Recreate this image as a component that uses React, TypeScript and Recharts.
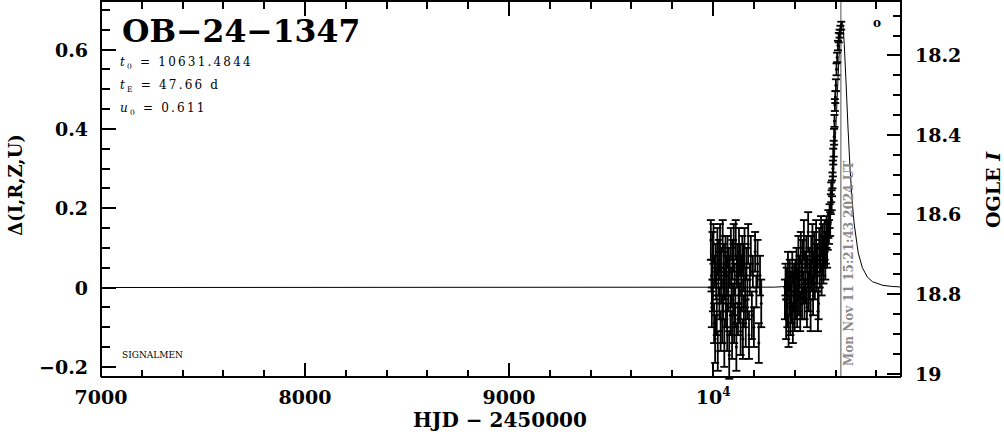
import { ComposedChart, Line, Scatter, XAxis, YAxis, ErrorBar } from "recharts"

const FONT = "'DejaVu Serif', serif"
const GRAY = "#8a8a8a"

// OGLE photometry, HJD - 2450000 vs delta magnitude
const season1Hjd = [
  9989, 9992, 9994, 9997, 9999, 10002, 10005, 10007, 10010, 10013,
  10015, 10018, 10021, 10023, 10026, 10029, 10031, 10034, 10037, 10039,
  10042, 10045, 10047, 10050, 10053, 10055, 10058, 10061, 10063, 10066,
  10069, 10071, 10074, 10077, 10079, 10082, 10085, 10087, 10090, 10093,
  10095, 10098, 10101, 10103, 10106, 10109, 10111, 10114, 10117, 10119,
  10122, 10125, 10127, 10130, 10133, 10135, 10138, 10141, 10143, 10146,
  10149, 10151, 10154, 10157, 10160, 10164, 10168, 10172, 10176, 10180,
  10185, 10190, 10195, 10200, 10206, 10212, 10218, 10224, 10230, 10236,
]
const season1Dmag = [
  0.12, 0.03, -0.05, 0.08, -0.02, 0.11, -0.09, 0.04, -0.13, 0.06,
  0.01, -0.07, 0.09, -0.16, 0.02, 0.07, -0.04, 0.1, -0.11, 0.0,
  0.05, -0.08, 0.13, -0.03, 0.06, -0.14, 0.01, 0.08, -0.06, 0.03,
  -0.1, 0.09, -0.01, 0.05, -0.17, 0.04, -0.07, 0.11, 0.0, -0.12,
  0.07, -0.03, 0.1, -0.09, 0.02, -0.05, 0.12, -0.15, 0.04, 0.06,
  -0.08, 0.01, 0.09, -0.04, 0.07, -0.11, 0.03, -0.02, 0.08, -0.13,
  0.05, -0.06, 0.1, 0.0, -0.09, 0.06, -0.03, 0.11, -0.12, 0.02,
  0.08, -0.07, 0.04, -0.1, 0.09, -0.01, 0.06, -0.14, 0.03, -0.04,
]
const season1Err = [
  0.05, 0.04, 0.05, 0.06, 0.04, 0.05, 0.05, 0.04, 0.06, 0.05,
  0.04, 0.05, 0.06, 0.05, 0.04, 0.05, 0.04, 0.06, 0.05, 0.04,
  0.05, 0.06, 0.04, 0.05, 0.05, 0.06, 0.04, 0.05, 0.04, 0.05,
  0.06, 0.04, 0.05, 0.05, 0.06, 0.04, 0.05, 0.04, 0.05, 0.06,
  0.05, 0.04, 0.06, 0.05, 0.04, 0.05, 0.05, 0.06, 0.04, 0.05,
  0.04, 0.05, 0.06, 0.05, 0.04, 0.06, 0.05, 0.04, 0.05, 0.05,
  0.06, 0.04, 0.05, 0.05, 0.06, 0.04, 0.05, 0.05, 0.06, 0.04,
  0.05, 0.06, 0.04, 0.05, 0.05, 0.04, 0.06, 0.05, 0.05, 0.06,
]

const season2Hjd = [
  10352, 10355, 10358, 10361, 10364, 10367, 10370, 10373, 10376, 10379,
  10382, 10385, 10388, 10391, 10394, 10397, 10400, 10403, 10406, 10409,
  10412, 10415, 10418, 10421, 10424, 10427, 10430, 10433, 10436, 10439,
  10442, 10445, 10448, 10451, 10454, 10457, 10460, 10463, 10466, 10469,
  10472, 10475, 10478, 10481, 10484, 10487, 10490, 10493, 10496, 10499,
  10502, 10505, 10508, 10511, 10514, 10517, 10520, 10523, 10526, 10529,
  10532, 10535, 10538, 10541, 10544, 10547, 10550, 10553, 10556, 10559,
  10562, 10565,
]
const season2Dmag = [
  -0.03, 0.02, -0.08, 0.01, -0.05, 0.04, -0.11, -0.02, 0.03, -0.07,
  0.0, -0.04, 0.05, -0.09, -0.01, 0.02, -0.06, 0.03, -0.03, 0.06,
  -0.05, 0.01, 0.08, -0.02, 0.04, -0.06, 0.1, 0.02, -0.04, 0.07,
  0.0, 0.12, -0.03, 0.05, 0.01, 0.09, -0.05, 0.04, 0.14, -0.01,
  0.06, 0.02, -0.07, 0.08, 0.03, 0.11, -0.02, 0.05, 0.09, 0.01,
  0.07, 0.12, 0.03, 0.06, -0.06, -0.04, 0.1, 0.04, 0.08, 0.13,
  0.02, 0.07, 0.11, 0.05, 0.09, 0.12, 0.06, 0.1, 0.14, 0.09,
  0.13, 0.16,
]
const season2Err = [
  0.05, 0.04, 0.05, 0.04, 0.05, 0.05, 0.04, 0.05, 0.04, 0.05,
  0.04, 0.05, 0.04, 0.05, 0.05, 0.04, 0.05, 0.04, 0.05, 0.04,
  0.05, 0.04, 0.05, 0.05, 0.04, 0.05, 0.04, 0.05, 0.04, 0.05,
  0.04, 0.05, 0.05, 0.04, 0.05, 0.04, 0.05, 0.04, 0.05, 0.05,
  0.04, 0.05, 0.04, 0.05, 0.04, 0.05, 0.05, 0.04, 0.05, 0.04,
  0.04, 0.05, 0.04, 0.05, 0.05, 0.04, 0.05, 0.04, 0.04, 0.05,
  0.04, 0.04, 0.05, 0.04, 0.04, 0.05, 0.04, 0.04, 0.04, 0.04,
  0.035, 0.035,
]

const riseHjd = [
  10568, 10571, 10574, 10577, 10579, 10581, 10583, 10585, 10587, 10589,
  10591, 10593, 10595, 10597, 10599, 10602, 10605, 10608, 10612, 10616,
  10620, 10624, 10628,
]
const riseDmag = [
  0.14, 0.18, 0.16, 0.21, 0.24, 0.22, 0.25, 0.27, 0.3, 0.33,
  0.35, 0.38, 0.42, 0.46, 0.48, 0.51, 0.55, 0.58, 0.61, 0.63,
  0.64, 0.65, 0.66,
]
const riseErr = [
  0.03, 0.03, 0.03, 0.025, 0.025, 0.025, 0.02, 0.02, 0.02, 0.02,
  0.02, 0.02, 0.015, 0.015, 0.015, 0.015, 0.015, 0.012, 0.012, 0.012,
  0.01, 0.01, 0.01,
]

// fitted model curve
const modelHjd = [
  7000, 10300, 10400, 10450, 10480, 10500, 10530, 10550, 10570, 10580,
  10590, 10600, 10610, 10620, 10626, 10631.5, 10637, 10643, 10651.5, 10661.5,
  10671.5, 10681.5, 10691.5, 10711.5, 10731.5, 10756.5, 10781.5, 10831.5, 10881.5, 10921,
]
const modelDmag = [
  0, 0.0009, 0.0038, 0.0098, 0.0142, 0.022, 0.0476, 0.0835, 0.1528, 0.2086,
  0.2845, 0.3834, 0.5006, 0.6128, 0.6577, 0.672, 0.6577, 0.6128, 0.519, 0.4,
  0.298, 0.219, 0.16, 0.087, 0.05, 0.026, 0.0146, 0.0054, 0.0025, 0.0014,
]

// time the plot was made (grey marker)
const nowHjd = 10626.14
const nowText = "Mon Nov 11 15:21:43 2024 UT"

const xTicks = [
  7000, 7200, 7400, 7600, 7800, 8000, 8200, 8400, 8600, 8800, 9000,
  9200, 9400, 9600, 9800, 10000, 10200, 10400, 10600, 10800,
]
const xMajor = [7000, 8000, 9000, 10000]
const leftTicks = [
  -0.2, -0.15, -0.1, -0.05, 0, 0.05, 0.1, 0.15, 0.2, 0.25,
  0.3, 0.35, 0.4, 0.45, 0.5, 0.55, 0.6, 0.65, 0.7,
]
const leftMajor = [-0.2, 0, 0.2, 0.4, 0.6]
const leftLabels = ["−0.2", "0", "0.2", "0.4", "0.6"]
const rightTicks = [
  18.1, 18.15, 18.2, 18.25, 18.3, 18.35, 18.4, 18.45, 18.5, 18.55,
  18.6, 18.65, 18.7, 18.75, 18.8, 18.85, 18.9, 18.95, 19,
]
const rightMajor = [18.2, 18.4, 18.6, 18.8, 19]
const rightLabels = ["18.2", "18.4", "18.6", "18.8", "19"]

// frame: plot box and axis domains
const BOX = { left: 101, right: 901, top: 1, bottom: 377 }
const X_DOMAIN: [number, number] = [7000, 10921]
const D_DOMAIN: [number, number] = [-0.2256, 0.7223]
const M_DOMAIN: [number, number] = [18.0629, 19.0088]

const zip = (h: number[], d: number[], e: number[]) =>
  h.map((hjd, i) => ({ hjd, dmag: d[i], err: e[i] }))

const obs = [
  ...zip(season1Hjd, season1Dmag, season1Err),
  ...zip(season2Hjd, season2Dmag, season2Err),
  ...zip(riseHjd, riseDmag, riseErr),
]
const model = modelHjd.map((hjd, i) => ({ hjd, dmag: modelDmag[i] }))
const nowLine = [
  { hjd: nowHjd, dmag: D_DOMAIN[0] },
  { hjd: nowHjd, dmag: D_DOMAIN[1] },
]

const findMajor = (list: number[], v: number) => list.findIndex((m) => Math.abs(m - v) < 1e-6)

const labelStyle = { fontFamily: FONT, fontWeight: "bold" as const, fontSize: 19, fill: "#000" }
const frameStroke = { stroke: "#000", strokeWidth: 2 }

function BottomLabel({ x, y, payload }: any) {
  if (findMajor(xMajor, payload.value) < 0) return <g />
  return (
    <text x={x} y={y + 27} textAnchor="middle" {...labelStyle}>
      {payload.value === 10000 ? (
        <>
          <tspan>10</tspan>
          <tspan fontSize={12} dy={-8}>4</tspan>
        </>
      ) : (
        payload.value
      )}
    </text>
  )
}

function LeftLabel({ x, y, payload }: any) {
  const idx = findMajor(leftMajor, payload.value)
  if (idx < 0) return <g />
  return (
    <text x={x - 13} y={y + 7} textAnchor="end" {...labelStyle}>
      {leftLabels[idx]}
    </text>
  )
}

function RightLabel({ x, y, payload }: any) {
  const idx = findMajor(rightMajor, payload.value)
  if (idx < 0) return <g />
  return (
    <text x={x + 14} y={y + 7} textAnchor="start" {...labelStyle}>
      {rightLabels[idx]}
    </text>
  )
}

// inward tick marks on all four sides, laid on top of the chart
function FrameTicks() {
  const w = BOX.right - BOX.left
  const h = BOX.bottom - BOX.top
  const px = (v: number) => BOX.left + ((v - X_DOMAIN[0]) / (X_DOMAIN[1] - X_DOMAIN[0])) * w
  const pd = (v: number) => BOX.top + ((D_DOMAIN[1] - v) / (D_DOMAIN[1] - D_DOMAIN[0])) * h
  const pm = (v: number) => BOX.top + ((v - M_DOMAIN[0]) / (M_DOMAIN[1] - M_DOMAIN[0])) * h
  const d: string[] = []
  xTicks.forEach((v) => {
    const major = findMajor(xMajor, v) >= 0
    const x = Math.round(px(v))
    d.push(`M${x} ${BOX.bottom}V${BOX.bottom - (major ? 14 : 7)}`)
    d.push(`M${x} ${BOX.top}V${BOX.top + (major ? 15 : 8)}`)
  })
  leftTicks.forEach((v) => {
    const y = Math.round(pd(v))
    d.push(`M${BOX.left} ${y}H${BOX.left + (findMajor(leftMajor, v) >= 0 ? 15 : 9)}`)
  })
  rightTicks.forEach((v) => {
    const y = Math.round(pm(v))
    d.push(`M${BOX.right} ${y}H${BOX.right - (findMajor(rightMajor, v) >= 0 ? 14 : 8)}`)
  })
  return (
    <g>
      <rect x={BOX.left - 1} y={BOX.top - 1} width={w + 2} height={2} fill="#000" />
      <path d={d.join("")} stroke="#000" strokeWidth={2.5} fill="none" shapeRendering="crispEdges" />
    </g>
  )
}

export default function App() {
  const nowX = BOX.left + ((nowHjd - X_DOMAIN[0]) / (X_DOMAIN[1] - X_DOMAIN[0])) * (BOX.right - BOX.left)
  return (
    <div style={{ position: "absolute", left: 0, top: 0, width: 1004, height: 434, background: "#fff" }}>
      <ComposedChart width={1004} height={434} margin={{ top: BOX.top, right: 0, bottom: 0, left: 0 }}>
        <XAxis
          xAxisId="b"
          type="number"
          dataKey="hjd"
          domain={X_DOMAIN}
          allowDataOverflow
          ticks={xTicks}
          interval={0}
          height={434 - BOX.bottom}
          tickSize={0}
          tickMargin={0}
          tickLine={false}
          tick={<BottomLabel />}
          axisLine={frameStroke}
        />
        <YAxis
          yAxisId="d"
          type="number"
          domain={D_DOMAIN}
          allowDataOverflow
          ticks={leftTicks}
          interval={0}
          width={BOX.left}
          tickSize={0}
          tickMargin={0}
          tickLine={false}
          tick={<LeftLabel />}
          axisLine={frameStroke}
        />
        <YAxis
          yAxisId="mag"
          orientation="right"
          type="number"
          domain={M_DOMAIN}
          reversed
          allowDataOverflow
          ticks={rightTicks}
          interval={0}
          width={1004 - BOX.right}
          tickSize={0}
          tickMargin={0}
          tickLine={false}
          tick={<RightLabel />}
          axisLine={frameStroke}
        />
        <Line
          xAxisId="b"
          yAxisId="d"
          data={nowLine}
          dataKey="dmag"
          stroke={GRAY}
          strokeWidth={1.5}
          dot={false}
          isAnimationActive={false}
        />
        <Line
          xAxisId="b"
          yAxisId="d"
          data={model}
          dataKey="dmag"
          type="linear"
          stroke="#000"
          strokeWidth={1}
          dot={false}
          isAnimationActive={false}
        />
        <Scatter
          xAxisId="b"
          yAxisId="d"
          data={obs}
          dataKey="dmag"
          isAnimationActive={false}
          shape={(p: any) => <circle cx={p.cx} cy={p.cy} r={1.5} fill="#000" />}
        >
          <ErrorBar dataKey="err" direction="y" width={4} stroke="#000" strokeWidth={1.8} isAnimationActive={false} />
        </Scatter>
      </ComposedChart>
      <svg
        width={1004}
        height={434}
        style={{ position: "absolute", left: 0, top: 0, pointerEvents: "none" }}
      >
        <text
          x={nowX + 12.5}
          y={BOX.bottom - 11}
          transform={`rotate(-90 ${nowX + 12.5} ${BOX.bottom - 11})`}
          fill={GRAY}
          fontFamily={FONT}
          fontWeight="bold"
          fontSize={12}
        >
          {nowText}
        </text>
        <text x={122} y={42} fontFamily={FONT} fontSize={31.5} fontWeight="bold">OB−24−1347</text>
        <text x={120} y={66} fontFamily={FONT} fontSize={12} letterSpacing={2.2}>
          <tspan fontStyle="italic">t</tspan>
          <tspan fontSize={7.5} dy={3}>0</tspan>
          <tspan dy={-3}> = 10631.4844</tspan>
        </text>
        <text x={120} y={89} fontFamily={FONT} fontSize={12} letterSpacing={2.2}>
          <tspan fontStyle="italic">t</tspan>
          <tspan fontSize={7.5} dy={3}>E</tspan>
          <tspan dy={-3}> = 47.66 d</tspan>
        </text>
        <text x={120} y={112} fontFamily={FONT} fontSize={12} letterSpacing={2.2}>
          <tspan fontStyle="italic">u</tspan>
          <tspan fontSize={7.5} dy={3}>0</tspan>
          <tspan dy={-3}> = 0.611</tspan>
        </text>
        <text x={122} y={358} fontFamily={FONT} fontSize={9}>SIGNALMEN</text>
        <text x={877} y={26.5} fontFamily={FONT} fontSize={12} fontWeight="bold" textAnchor="middle">o</text>
        <text x={22} y={185} fontFamily={FONT} fontSize={18} fontWeight="bold" textAnchor="middle" transform="rotate(-90 22 185)">
          Δ(I,R,Z,U)
        </text>
        <text x={1000} y={190} fontFamily={FONT} fontSize={19} fontWeight="bold" textAnchor="middle" transform="rotate(-90 1000 190)">
          OGLE <tspan fontStyle="italic">I</tspan>
        </text>
        <text x={500} y={427} fontFamily={FONT} fontSize={20} fontWeight="bold" textAnchor="middle">HJD − 2450000</text>
        <FrameTicks />
      </svg>
    </div>
  )
}
